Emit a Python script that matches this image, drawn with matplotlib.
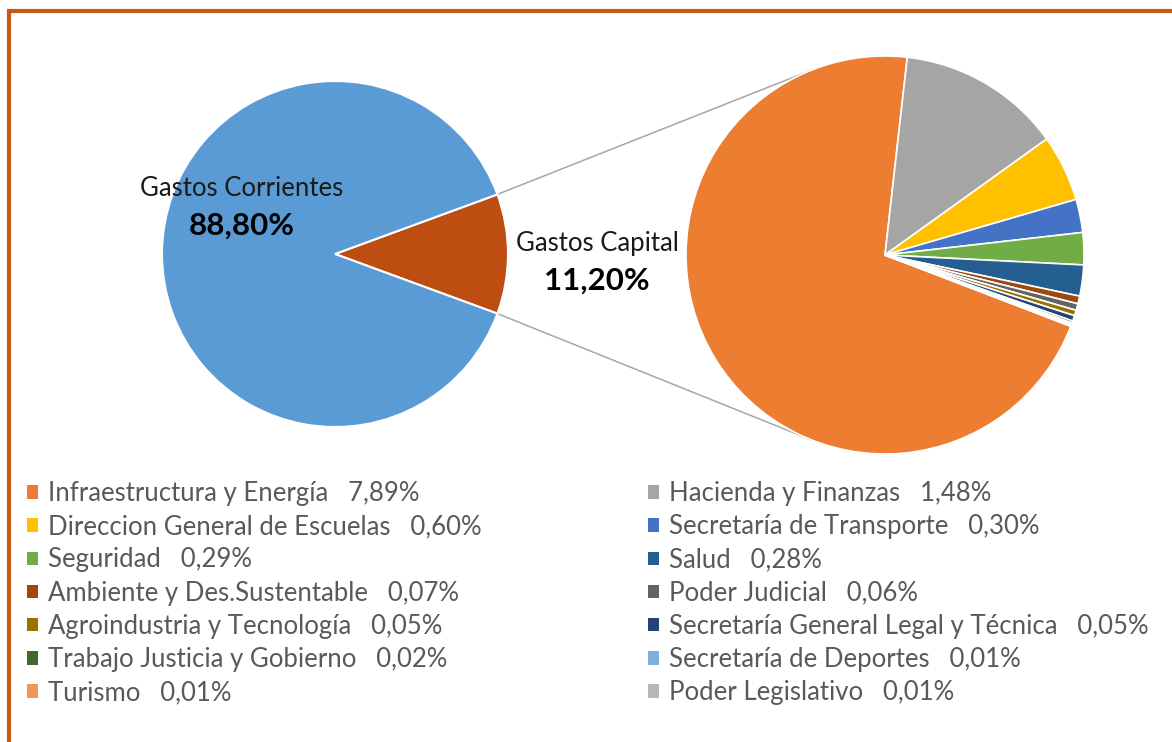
import numpy as np
import matplotlib
matplotlib.use("Agg")
import matplotlib.pyplot as plt
from matplotlib.patches import Patch

plt.rcParams['font.family'] = ['Lato', 'DejaVu Sans']

# primary pie
main_labels = ["Gastos Capital", "Gastos Corrientes"]
main_values = [11.20, 88.80]
main_colors = ["#BE4D12", "#5B9BD5"]

# breakdown of Gastos Capital
sub_labels = ["Infraestructura y Energía", "Hacienda y Finanzas",
              "Direccion General de Escuelas", "Secretaría de Transporte",
              "Seguridad", "Salud", "Ambiente y Des.Sustentable",
              "Poder Judicial", "Agroindustria y Tecnología",
              "Secretaría General Legal y Técnica", "Trabajo Justicia y Gobierno",
              "Secretaría de Deportes", "Turismo", "Poder Legislativo"]
sub_values = [7.89, 1.48, 0.60, 0.30, 0.29, 0.28, 0.07, 0.06, 0.05, 0.05,
              0.02, 0.01, 0.01, 0.01]
sub_colors = ["#ED7D31", "#A5A5A5", "#FFC000", "#4472C4", "#70AD47", "#255E91",
              "#9E480E", "#636363", "#997300", "#264478", "#43682B", "#7CAFDD",
              "#F1975A", "#B7B7B7"]

W, H = 1172, 742
fig = plt.figure(figsize=(W / 100, H / 100), dpi=100)
ax = fig.add_axes([0, 0, 1, 1])

c1, r1 = (335, H - 254), 173
c2, r2 = (885, H - 255), 199

half = main_values[0] / sum(main_values) * 360 / 2
w1, _ = ax.pie(main_values, colors=main_colors, center=c1, radius=r1,
               startangle=-half, frame=True,
               wedgeprops=dict(edgecolor="white", linewidth=1.5))

w2, _ = ax.pie(sub_values, colors=sub_colors, center=c2, radius=r2,
               startangle=-21, counterclock=False, frame=True,
               wedgeprops=dict(edgecolor="white", linewidth=1.2))
ax.set_xlim(0, W)
ax.set_ylim(0, H)
ax.set_aspect("equal")
ax.axis("off")

# connector lines: capital wedge edges -> tangents of secondary pie
cap = w1[0]
for ang, sign in [(cap.theta2, 1), (cap.theta1, -1)]:
    px = c1[0] + r1 * np.cos(np.radians(ang))
    py = c1[1] + r1 * np.sin(np.radians(ang))
    dx, dy = px - c2[0], py - c2[1]
    d = np.hypot(dx, dy)
    base = np.arctan2(dy, dx)
    t = base - sign * np.arccos(r2 / d)
    tx, ty = c2[0] + r2 * np.cos(t), c2[1] + r2 * np.sin(t)
    ax.plot([px, tx], [py, ty], color="#A6A6A6", lw=1.1, zorder=0)

ax.text(242, H - 188, "Gastos Corrientes", ha="center", va="center",
        fontsize=18.5, color="#1a1a1a")
ax.text(242, H - 226, "88,80%", ha="center", va="center", fontsize=22.5,
        fontweight="bold", color="#000000")
ax.text(597, H - 243, "Gastos Capital", ha="center", va="center",
        fontsize=18.5, color="#1a1a1a")
ax.text(597, H - 281, "11,20%", ha="center", va="center", fontsize=22.5,
        fontweight="bold", color="#000000")

# legend: two columns filled row-wise
def fmt(v):
    return f"{v:.2f}".replace(".", ",") + "%"

handles = [Patch(facecolor=c, edgecolor="none") for c in sub_colors]
labels = [f"{n}   {fmt(v)}" for n, v in zip(sub_labels, sub_values)]
leg_kw = dict(frameon=False, fontsize=18.5, labelcolor="#595959",
              handlelength=0.43, handleheight=0.43, handletextpad=0.39,
              labelspacing=0.32, borderpad=0, borderaxespad=0, loc="upper left")
top = 1 - 481 / H
leg1 = ax.legend(handles[0::2], labels[0::2],
                 bbox_to_anchor=(27 / W, top), **leg_kw)
ax.add_artist(leg1)
ax.legend(handles[1::2], labels[1::2],
          bbox_to_anchor=(648 / W, top), **leg_kw)

# frame border (top and left)
border = "#C55A11"
ax.plot([7, W], [H - 11, H - 11], color=border, lw=3, clip_on=False,
        solid_capstyle="butt")
ax.plot([9, 9], [0, H - 11], color=border, lw=3, clip_on=False,
        solid_capstyle="butt")

fig.savefig("out.png", dpi=100, facecolor="white")
